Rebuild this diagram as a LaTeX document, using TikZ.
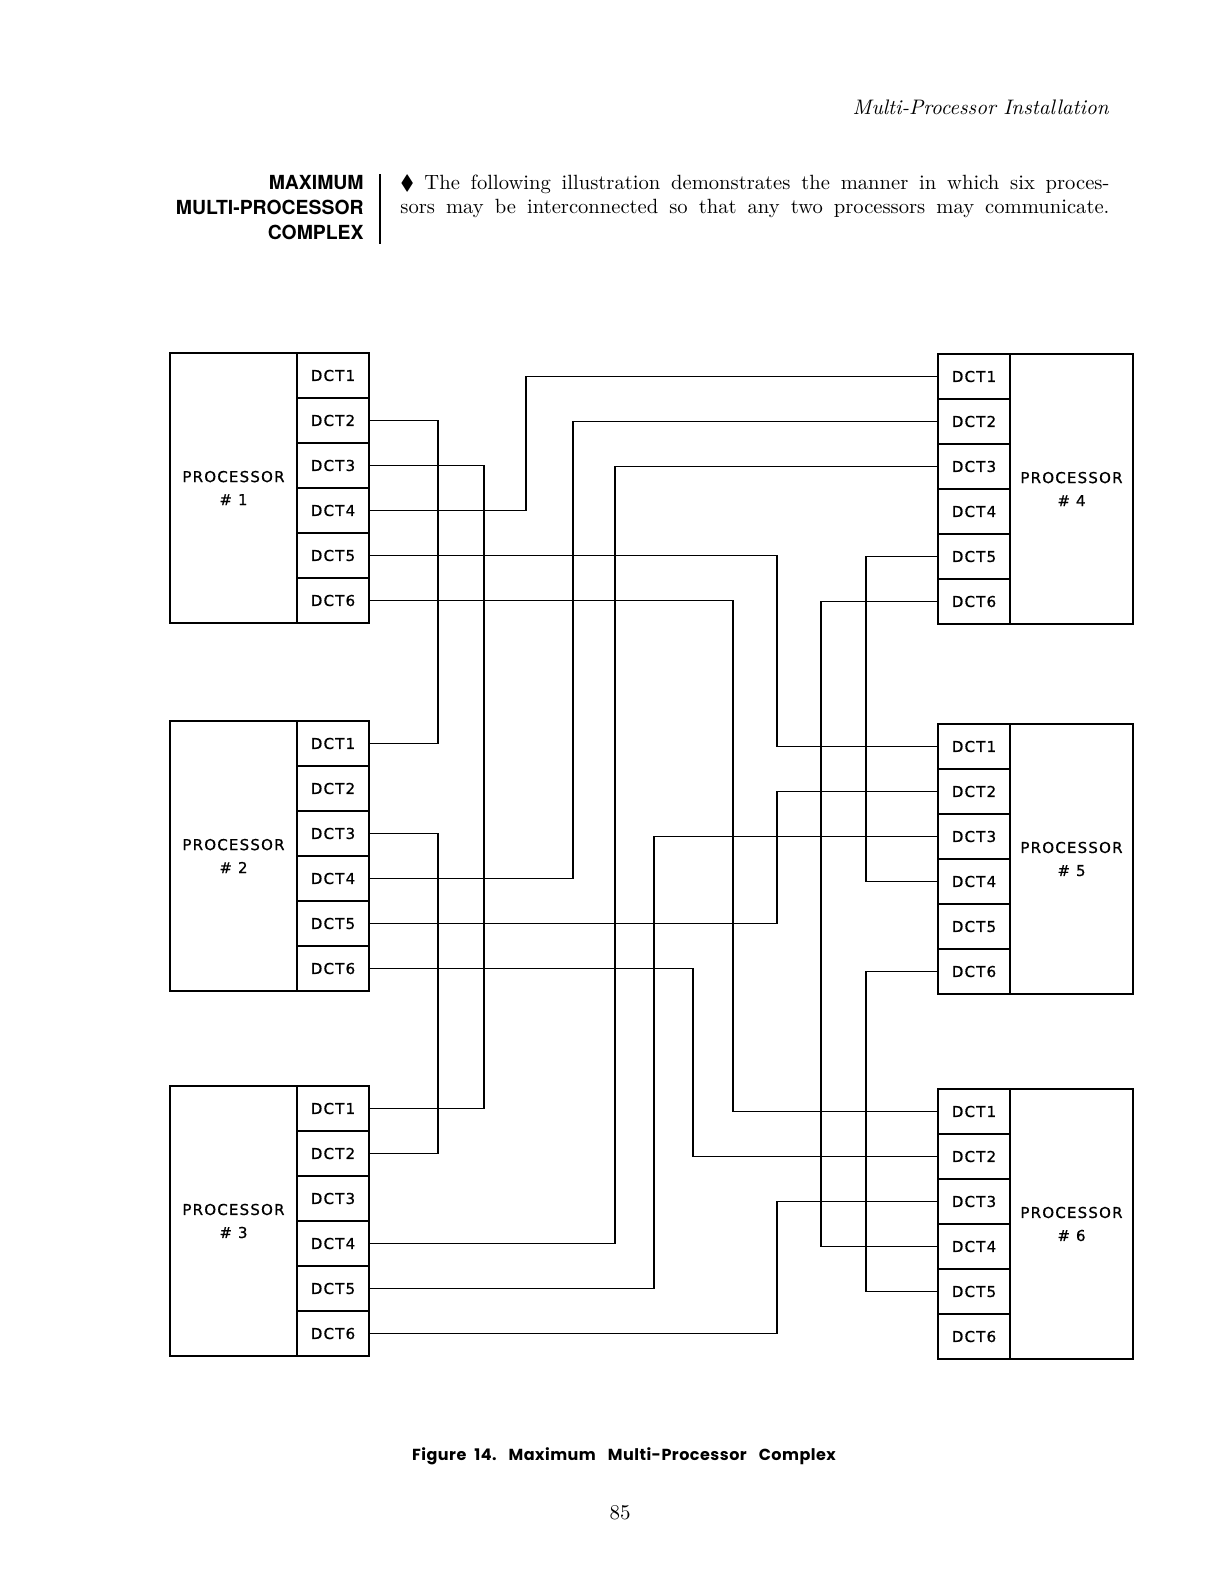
\documentclass[tikz,border=0pt]{standalone}
\usepackage{fontspec}
\usepackage{amssymb}
\newfontfamily\lettering[LetterSpace=8, FakeBold=0.8]{DejaVu Sans}
\newfontfamily\headfont{TeX Gyre Heros}
\newfontfamily\capfont[LetterSpace=3]{Poppins}
\tikzset{
  procbox/.style={draw, line width=1pt, rectangle, anchor=north west, minimum height=135pt, align=center, inner sep=0pt, font=\lettering\fontsize{7.5}{11.5}\selectfont},
  dctbox/.style={draw, line width=1pt, rectangle, anchor=north west, minimum width=36pt, minimum height=22.5pt, inner sep=0pt, font=\lettering\fontsize{7.5}{8}\selectfont},
  wire/.style={line width=0.9pt}
}
\begin{document}
\begin{tikzpicture}[x=0.5pt, y=-0.5pt]
\useasboundingbox (0,0) rectangle (1224,1584);
% page header and introduction
\node[anchor=base east, inner sep=0pt, font=\itshape\fontsize{10.5}{12}\selectfont] (hdr) at (1109,115) {Multi-Processor Installation};
\node[anchor=base east, inner sep=0pt, align=right, font=\headfont\bfseries\fontsize{9.7}{12.3}\selectfont] (ttl) at (364,239) {MAXIMUM\\MULTI-PROCESSOR\\COMPLEX};
\draw[line width=0.6pt] (380,174) -- (380,244);
\node[anchor=base west, inner sep=0pt, font=\fontsize{10.3}{12}\selectfont] (intro1) at (400,189) {\makebox[354.5pt][s]{$\blacklozenge$\enspace The following illustration demonstrates the manner in which six proces-}};
\node[anchor=base west, inner sep=0pt, font=\fontsize{10.3}{12}\selectfont] (intro2) at (400,213) {\makebox[354.5pt][s]{sors may be interconnected so that any two processors may communicate.}};
% processors
\node[procbox, minimum width=63.5pt] (p1) at (169,352) {PROCESSOR\\\# 1};
\node[procbox, minimum width=63.5pt] (p2) at (169,720) {PROCESSOR\\\# 2};
\node[procbox, minimum width=63.5pt] (p3) at (169,1085) {PROCESSOR\\\# 3};
\node[procbox, minimum width=61.5pt] (p4) at (1009,353) {PROCESSOR\\\# 4};
\node[procbox, minimum width=61.5pt] (p5) at (1009,723) {PROCESSOR\\\# 5};
\node[procbox, minimum width=61.5pt] (p6) at (1009,1088) {PROCESSOR\\\# 6};
% DCT columns
\foreach \pr/\x/\y in {1/296/352, 2/296/720, 3/296/1085, 4/937/353, 5/937/723, 6/937/1088} {
  \foreach \k in {1,...,6}
    \node[dctbox] (p\pr d\k) at (\x,{\y+45*(\k-1)}) {DCT\k};
}
% wiring columns
\coordinate (colA) at (438,0);
\coordinate (colB) at (484,0);
\coordinate (colC) at (526,0);
\coordinate (colD) at (573,0);
\coordinate (colE) at (615,0);
\coordinate (colF) at (654,0);
\coordinate (colG) at (693,0);
\coordinate (colH) at (733,0);
\coordinate (colI) at (777,0);
\coordinate (colJ) at (821,0);
\coordinate (colK) at (866,0);
% processor 1
\draw[wire] (p1d2.east) -- (p1d2.east -| colA) |- (p2d1.east);
\draw[wire] (p1d3.east) -- (p1d3.east -| colB) |- (p3d1.east);
\draw[wire] (p1d4.east) -- (p1d4.east -| colC) |- (p4d1.west);
\draw[wire] (p1d5.east) -- (p1d5.east -| colI) |- (p5d1.west);
\draw[wire] (p1d6.east) -- (p1d6.east -| colH) |- (p6d1.west);
% processor 2
\draw[wire] (p2d3.east) -- (p2d3.east -| colA) |- (p3d2.east);
\draw[wire] (p2d4.east) -- (p2d4.east -| colD) |- (p4d2.west);
\draw[wire] (p2d5.east) -- (p2d5.east -| colI) |- (p5d2.west);
\draw[wire] (p2d6.east) -- (p2d6.east -| colG) |- (p6d2.west);
% processor 3
\draw[wire] (p3d4.east) -- (p3d4.east -| colE) |- (p4d3.west);
\draw[wire] (p3d5.east) -- (p3d5.east -| colF) |- (p5d3.west);
\draw[wire] (p3d6.east) -- (p3d6.east -| colI) |- (p6d3.west);
% processors 4 and 5
\draw[wire] (p4d5.west) -- (p4d5.west -| colK) |- (p5d4.west);
\draw[wire] (p4d6.west) -- (p4d6.west -| colJ) |- (p6d4.west);
\draw[wire] (p5d6.west) -- (p5d6.west -| colK) |- (p6d5.west);
% caption and page number
\node[anchor=base, inner sep=0pt, font=\capfont\bfseries\fontsize{8}{10}\selectfont] (cap) at (624,1460) {Figure\hspace{4pt}14.\hspace{6pt}Maximum\hspace{6pt}Multi-Processor\hspace{6pt}Complex};
\node[anchor=base, inner sep=0pt, font=\fontsize{10.5}{12}\selectfont] (pg) at (620,1519) {85};
\end{tikzpicture}
\end{document}
